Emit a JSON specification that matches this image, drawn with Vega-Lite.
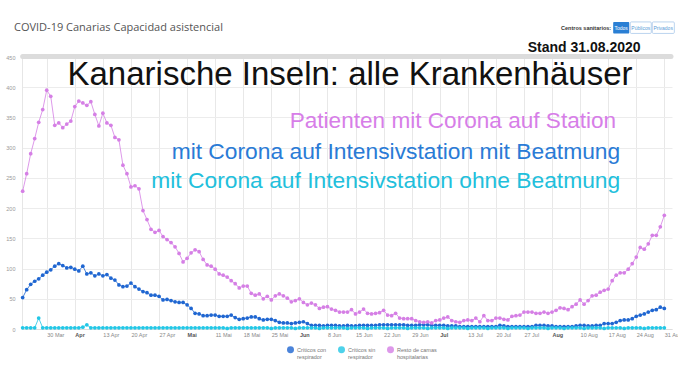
{
  "$schema": "https://vega.github.io/schema/vega-lite/v6.json",
  "width": 650,
  "height": 272,
  "autosize": {"type": "none"},
  "padding": {"left": 22, "top": 57, "right": 6, "bottom": 52},
  "background": "#ffffff",
  "title": {"text": "COVID-19 Canarias Capacidad asistencial", "anchor": "start", "frame": "group", "dx": -8, "offset": -11, "fontSize": 11, "font": "Open Sans", "fontWeight": 400, "color": "#555555"},
  "config": {
    "view": {"stroke": null},
    "font": "Liberation Sans",
    "axisX": {"labelAlign": "left", "labelFontSize": 5.5, "labelPadding": 3, "ticks": false, "grid": true, "gridColor": "#e8e8e8", "domainColor": "#dddddd", "labelOverlap": false, "labelBound": false, "title": null, "tickCount": 40},
    "axisY": {"labelFontSize": 5.5, "labelColor": "#999999", "ticks": false, "domainColor": "#e6e6e6", "gridColor": "#ececec", "labelPadding": 7, "title": null, "tickCount": 20},
    "legend": {"title": null, "orient": "none", "legendX": 265, "legendY": 289, "direction": "horizontal", "symbolType": "circle", "symbolSize": 30, "labelFontSize": 5.5, "labelColor": "#777777", "labelOffset": 3, "columnPadding": 8}
  },
  "datasets": {
    "beds": [
    {"d":"2020-03-24","c":52,"s":2,"r":228},{"d":"2020-03-25","c":65,"s":2,"r":257},{"d":"2020-03-26","c":74,"s":2,"r":290},{"d":"2020-03-27","c":79,"s":2,"r":315},{"d":"2020-03-28","c":83,"s":18,"r":342},{"d":"2020-03-29","c":89,"s":2,"r":363},{"d":"2020-03-30","c":94,"s":2,"r":395},{"d":"2020-03-31","c":98,"s":2,"r":385},
    {"d":"2020-04-01","c":104,"s":2,"r":337},{"d":"2020-04-02","c":108,"s":2,"r":341},{"d":"2020-04-03","c":105,"s":2,"r":333},{"d":"2020-04-04","c":101,"s":2,"r":339},{"d":"2020-04-05","c":102,"s":2,"r":344},{"d":"2020-04-06","c":99,"s":2,"r":368},{"d":"2020-04-07","c":96,"s":2,"r":377},{"d":"2020-04-08","c":104,"s":3,"r":374},{"d":"2020-04-09","c":91,"s":7,"r":370},{"d":"2020-04-10","c":93,"s":2,"r":376},
    {"d":"2020-04-11","c":88,"s":2,"r":355},{"d":"2020-04-12","c":91,"s":2,"r":336},{"d":"2020-04-13","c":88,"s":2,"r":357},{"d":"2020-04-14","c":90,"s":2,"r":341},{"d":"2020-04-15","c":84,"s":2,"r":337},{"d":"2020-04-16","c":81,"s":2,"r":317},{"d":"2020-04-17","c":73,"s":2,"r":313},{"d":"2020-04-18","c":70,"s":2,"r":271},{"d":"2020-04-19","c":71,"s":2,"r":257},{"d":"2020-04-20","c":76,"s":2,"r":235},
    {"d":"2020-04-21","c":70,"s":2,"r":237},{"d":"2020-04-22","c":66,"s":2,"r":232},{"d":"2020-04-23","c":62,"s":2,"r":196},{"d":"2020-04-24","c":60,"s":2,"r":181},{"d":"2020-04-25","c":56,"s":2,"r":165},{"d":"2020-04-26","c":56,"s":2,"r":160},{"d":"2020-04-27","c":54,"s":2,"r":163},{"d":"2020-04-28","c":48,"s":2,"r":153},{"d":"2020-04-29","c":49,"s":2,"r":148},{"d":"2020-04-30","c":47,"s":2,"r":143},
    {"d":"2020-05-01","c":45,"s":2,"r":136},{"d":"2020-05-02","c":44,"s":2,"r":125},{"d":"2020-05-03","c":44,"s":2,"r":111},{"d":"2020-05-04","c":40,"s":2,"r":117},{"d":"2020-05-05","c":34,"s":2,"r":126},{"d":"2020-05-06","c":26,"s":2,"r":131},{"d":"2020-05-07","c":25,"s":2,"r":128},{"d":"2020-05-08","c":22,"s":2,"r":115},{"d":"2020-05-09","c":22,"s":2,"r":106},{"d":"2020-05-10","c":23,"s":2,"r":104},
    {"d":"2020-05-11","c":23,"s":2,"r":99},{"d":"2020-05-12","c":21,"s":2,"r":91},{"d":"2020-05-13","c":21,"s":2,"r":89},{"d":"2020-05-14","c":21,"s":1,"r":86},{"d":"2020-05-15","c":23,"s":2,"r":80},{"d":"2020-05-16","c":19,"s":2,"r":75},{"d":"2020-05-17","c":16,"s":2,"r":68},{"d":"2020-05-18","c":17,"s":2,"r":71},{"d":"2020-05-19","c":18,"s":2,"r":71},{"d":"2020-05-20","c":20,"s":2,"r":59},
    {"d":"2020-05-21","c":20,"s":2,"r":56},{"d":"2020-05-22","c":17,"s":2,"r":58},{"d":"2020-05-23","c":15,"s":2,"r":50},{"d":"2020-05-24","c":16,"s":2,"r":54},{"d":"2020-05-25","c":16,"s":1,"r":48},{"d":"2020-05-26","c":14,"s":2,"r":55},{"d":"2020-05-27","c":11,"s":2,"r":58},{"d":"2020-05-28","c":10,"s":2,"r":55},{"d":"2020-05-29","c":10,"s":2,"r":51},{"d":"2020-05-30","c":9,"s":2,"r":45},{"d":"2020-05-31","c":10,"s":1,"r":47},
    {"d":"2020-06-01","c":11,"s":2,"r":50},{"d":"2020-06-02","c":12,"s":2,"r":44},{"d":"2020-06-03","c":9,"s":2,"r":40},{"d":"2020-06-04","c":6,"s":2,"r":43},{"d":"2020-06-05","c":6,"s":2,"r":40},{"d":"2020-06-06","c":6,"s":1,"r":34},{"d":"2020-06-07","c":5,"s":2,"r":36},{"d":"2020-06-08","c":6,"s":2,"r":37},{"d":"2020-06-09","c":6,"s":2,"r":33},{"d":"2020-06-10","c":6,"s":2,"r":31},
    {"d":"2020-06-11","c":5,"s":2,"r":28},{"d":"2020-06-12","c":5,"s":2,"r":28},{"d":"2020-06-13","c":6,"s":1,"r":28},{"d":"2020-06-14","c":5,"s":2,"r":32},{"d":"2020-06-15","c":5,"s":2,"r":25},{"d":"2020-06-16","c":6,"s":2,"r":28},{"d":"2020-06-17","c":6,"s":2,"r":33},{"d":"2020-06-18","c":6,"s":1,"r":26},{"d":"2020-06-19","c":6,"s":2,"r":25},{"d":"2020-06-20","c":6,"s":2,"r":26},
    {"d":"2020-06-21","c":7,"s":2,"r":27},{"d":"2020-06-22","c":7,"s":2,"r":31},{"d":"2020-06-23","c":7,"s":1,"r":23},{"d":"2020-06-24","c":7,"s":2,"r":22},{"d":"2020-06-25","c":7,"s":2,"r":26},{"d":"2020-06-26","c":7,"s":2,"r":18},{"d":"2020-06-27","c":7,"s":2,"r":17},{"d":"2020-06-28","c":6,"s":1,"r":17},{"d":"2020-06-29","c":6,"s":2,"r":17},{"d":"2020-06-30","c":6,"s":2,"r":14},
    {"d":"2020-07-01","c":7,"s":2,"r":12},{"d":"2020-07-02","c":7,"s":2,"r":11},{"d":"2020-07-03","c":7,"s":1,"r":12},{"d":"2020-07-04","c":6,"s":2,"r":10},{"d":"2020-07-05","c":6,"s":2,"r":14},{"d":"2020-07-06","c":6,"s":2,"r":15},{"d":"2020-07-07","c":6,"s":2,"r":18},{"d":"2020-07-08","c":5,"s":1,"r":20},{"d":"2020-07-09","c":5,"s":2,"r":14},{"d":"2020-07-10","c":5,"s":2,"r":12},
    {"d":"2020-07-11","c":4,"s":2,"r":11},{"d":"2020-07-12","c":4,"s":2,"r":14},{"d":"2020-07-13","c":4,"s":1,"r":15},{"d":"2020-07-14","c":4,"s":2,"r":14},{"d":"2020-07-15","c":4,"s":2,"r":18},{"d":"2020-07-16","c":4,"s":2,"r":12},{"d":"2020-07-17","c":4,"s":2,"r":22},{"d":"2020-07-18","c":4,"s":1,"r":14},{"d":"2020-07-19","c":4,"s":2,"r":14},{"d":"2020-07-20","c":4,"s":2,"r":18},
    {"d":"2020-07-21","c":6,"s":2,"r":18},{"d":"2020-07-22","c":5,"s":2,"r":16},{"d":"2020-07-23","c":4,"s":1,"r":15},{"d":"2020-07-24","c":4,"s":2,"r":21},{"d":"2020-07-25","c":4,"s":2,"r":22},{"d":"2020-07-26","c":4,"s":2,"r":23},{"d":"2020-07-27","c":4,"s":2,"r":28},{"d":"2020-07-28","c":4,"s":1,"r":28},{"d":"2020-07-29","c":4,"s":2,"r":28},{"d":"2020-07-30","c":6,"s":2,"r":26},{"d":"2020-07-31","c":6,"s":2,"r":26},
    {"d":"2020-08-01","c":6,"s":2,"r":28},{"d":"2020-08-02","c":5,"s":1,"r":26},{"d":"2020-08-03","c":5,"s":2,"r":28},{"d":"2020-08-04","c":4,"s":2,"r":31},{"d":"2020-08-05","c":4,"s":2,"r":35},{"d":"2020-08-06","c":4,"s":1,"r":34},{"d":"2020-08-07","c":4,"s":2,"r":32},{"d":"2020-08-08","c":4,"s":2,"r":37},{"d":"2020-08-09","c":5,"s":2,"r":41},{"d":"2020-08-10","c":6,"s":2,"r":48},
    {"d":"2020-08-11","c":6,"s":1,"r":41},{"d":"2020-08-12","c":5,"s":2,"r":47},{"d":"2020-08-13","c":5,"s":2,"r":55},{"d":"2020-08-14","c":6,"s":2,"r":56},{"d":"2020-08-15","c":6,"s":2,"r":61},{"d":"2020-08-16","c":9,"s":1,"r":64},{"d":"2020-08-17","c":9,"s":2,"r":66},{"d":"2020-08-18","c":9,"s":2,"r":80},{"d":"2020-08-19","c":11,"s":2,"r":89},{"d":"2020-08-20","c":14,"s":2,"r":93},
    {"d":"2020-08-21","c":15,"s":1,"r":93},{"d":"2020-08-22","c":15,"s":2,"r":99},{"d":"2020-08-23","c":17,"s":2,"r":108},{"d":"2020-08-24","c":21,"s":2,"r":119},{"d":"2020-08-25","c":23,"s":2,"r":135},{"d":"2020-08-26","c":25,"s":1,"r":132},{"d":"2020-08-27","c":28,"s":2,"r":141},{"d":"2020-08-28","c":31,"s":2,"r":155},{"d":"2020-08-29","c":32,"s":2,"r":155},{"d":"2020-08-30","c":36,"s":2,"r":169},{"d":"2020-08-31","c":34,"s":2,"r":188}
    ],
    "notes": [
      {"id": "stand", "t": "Stand 31.08.2020"},
      {"id": "head", "t": "Kanarische Inseln: alle Krankenhäuser"},
      {"id": "r", "t": "Patienten mit Corona auf Station"},
      {"id": "c", "t": "mit Corona auf Intensivstation mit Beatmung"},
      {"id": "s", "t": "mit Corona auf Intensivstation ohne Beatmung"},
      {"id": "bar", "t": ""},
      {"id": "centros", "t": "Centros sanitarios:"},
      {"id": "todos", "t": "Todos"},
      {"id": "publicos", "t": "Públicos"},
      {"id": "privados", "t": "Privados"}
    ]
  },
  "layer": [
    {
      "data": {"name": "beds"},
      "transform": [{"fold": ["c", "s", "r"], "as": ["k", "v"]}],
      "mark": {"type": "line", "strokeWidth": 1, "opacity": 0.8},
      "encoding": {
        "x": {
          "field": "d", "type": "temporal",
          "scale": {"type": "utc", "domain": [{"year": 2020, "month": 3, "date": 23, "hours": 20, "utc": true}, {"year": 2020, "month": 9, "date": 1, "hours": 22, "utc": true}]},
          "axis": {
            "tickCount": 40,
            "values": [
              {"year":2020,"month":3,"date":30,"utc":true},{"year":2020,"month":4,"date":6,"utc":true},{"year":2020,"month":4,"date":13,"utc":true},{"year":2020,"month":4,"date":20,"utc":true},{"year":2020,"month":4,"date":27,"utc":true},
              {"year":2020,"month":5,"date":4,"utc":true},{"year":2020,"month":5,"date":11,"utc":true},{"year":2020,"month":5,"date":18,"utc":true},{"year":2020,"month":5,"date":25,"utc":true},
              {"year":2020,"month":6,"date":1,"utc":true},{"year":2020,"month":6,"date":8,"utc":true},{"year":2020,"month":6,"date":15,"utc":true},{"year":2020,"month":6,"date":22,"utc":true},{"year":2020,"month":6,"date":29,"utc":true},
              {"year":2020,"month":7,"date":6,"utc":true},{"year":2020,"month":7,"date":13,"utc":true},{"year":2020,"month":7,"date":20,"utc":true},{"year":2020,"month":7,"date":27,"utc":true},
              {"year":2020,"month":8,"date":3,"utc":true},{"year":2020,"month":8,"date":10,"utc":true},{"year":2020,"month":8,"date":17,"utc":true},{"year":2020,"month":8,"date":24,"utc":true},{"year":2020,"month":8,"date":31,"utc":true}
            ],
            "labelExpr": "(utcdate(datum.value) <= 7 ? '' : utcdate(datum.value) + ' ') + ['Jan','Feb','Mar','Apr','Mai','Jun','Jul','Aug','Sep'][utcmonth(datum.value)]",
            "labelColor": {"condition": {"test": "utcdate(datum.value) <= 7", "value": "#555555"}, "value": "#888888"},
            "labelFontWeight": {"condition": {"test": "utcdate(datum.value) <= 7", "value": "bold"}, "value": "normal"}
          }
        },
        "y": {
          "field": "v", "type": "quantitative",
          "scale": {"domain": [0, 450], "nice": false},
          "axis": {"tickCount": 20, "values": [0, 50, 100, 150, 200, 250, 300, 350, 400, 450]}
        },
        "color": {"field": "k", "type": "nominal", "scale": {"domain": ["c", "s", "r"], "range": ["#1f66d1", "#22c7e6", "#d57fe5"]},
          "legend": {"labelExpr": "datum.label == 'c' ? ['Críticos con', 'respirador'] : datum.label == 's' ? ['Críticos sin', 'respirador'] : ['Resto de camas', 'hospitalarias']"}}
      }
    },
    {
      "data": {"name": "beds"},
      "transform": [{"fold": ["c", "s", "r"], "as": ["k", "v"]}],
      "mark": {"type": "point", "filled": true, "size": 14, "opacity": 1},
      "encoding": {
        "x": {"field": "d", "type": "temporal"},
        "y": {"field": "v", "type": "quantitative"},
        "color": {"field": "k", "type": "nominal", "scale": {"domain": ["c", "s", "r"], "range": ["#1f66d1", "#22c7e6", "#d57fe5"]},
          "legend": {"labelExpr": "datum.label == 'c' ? ['Críticos con', 'respirador'] : datum.label == 's' ? ['Críticos sin', 'respirador'] : ['Resto de camas', 'hospitalarias']"}}
      }
    },
    {
      "data": {"name": "notes"},
      "transform": [{"filter": "datum.id == 'bar'"}],
      "mark": {"type": "rule", "color": "#dcdcdc", "strokeWidth": 5, "strokeCap": "round"},
      "encoding": {
        "x": {"datum": {"year": 2020, "month": 3, "date": 24, "utc": true}, "type": "temporal"},
        "x2": {"datum": {"year": 2020, "month": 9, "date": 1, "hours": 16, "utc": true}},
        "y": {"datum": 451, "type": "quantitative"}
      }
    },
    {
      "data": {"name": "notes"},
      "transform": [{"filter": "datum.id == 'todos'"}],
      "mark": {"type": "rect", "fill": "#2a7fd4", "cornerRadius": 1},
      "encoding": {
        "x": {"datum": {"year": 2020, "month": 8, "date": 18, "hours": 6, "utc": true}, "type": "temporal"},
        "x2": {"datum": {"year": 2020, "month": 8, "date": 22, "hours": 6, "utc": true}},
        "y": {"datum": 489, "type": "quantitative"},
        "y2": {"datum": 508}
      }
    },
    {
      "data": {"name": "notes"},
      "transform": [{"filter": "datum.id == 'publicos'"}],
      "mark": {"type": "rect", "fill": "#ffffff", "stroke": "#a8c8ea", "strokeWidth": 0.8, "cornerRadius": 1},
      "encoding": {
        "x": {"datum": {"year": 2020, "month": 8, "date": 22, "hours": 12, "utc": true}, "type": "temporal"},
        "x2": {"datum": {"year": 2020, "month": 8, "date": 27, "hours": 18, "utc": true}},
        "y": {"datum": 489, "type": "quantitative"},
        "y2": {"datum": 508}
      }
    },
    {
      "data": {"name": "notes"},
      "transform": [{"filter": "datum.id == 'privados'"}],
      "mark": {"type": "rect", "fill": "#ffffff", "stroke": "#a8c8ea", "strokeWidth": 0.8, "cornerRadius": 1},
      "encoding": {
        "x": {"datum": {"year": 2020, "month": 8, "date": 28, "utc": true}, "type": "temporal"},
        "x2": {"datum": {"year": 2020, "month": 9, "date": 2, "hours": 12, "utc": true}},
        "y": {"datum": 489, "type": "quantitative"},
        "y2": {"datum": 508}
      }
    },
    {
      "data": {"name": "notes"},
      "transform": [{"filter": "datum.id == 'centros'"}],
      "mark": {"type": "text", "font": "Liberation Sans", "fontSize": 5.5, "fontWeight": "bold", "color": "#333333", "align": "right", "baseline": "middle"},
      "encoding": {
        "x": {"datum": {"year": 2020, "month": 8, "date": 17, "hours": 18, "utc": true}, "type": "temporal"},
        "y": {"datum": 498.5, "type": "quantitative"},
        "text": {"field": "t", "type": "nominal"}
      }
    },
    {
      "data": {"name": "notes"},
      "transform": [{"filter": "datum.id == 'todos'"}],
      "mark": {"type": "text", "font": "Liberation Sans", "fontSize": 5, "color": "#ffffff", "align": "center", "baseline": "middle"},
      "encoding": {
        "x": {"datum": {"year": 2020, "month": 8, "date": 20, "hours": 6, "utc": true}, "type": "temporal"},
        "y": {"datum": 498.5, "type": "quantitative"},
        "text": {"field": "t", "type": "nominal"}
      }
    },
    {
      "data": {"name": "notes"},
      "transform": [{"filter": "datum.id == 'publicos'"}],
      "mark": {"type": "text", "font": "Liberation Sans", "fontSize": 5, "color": "#5b9bd8", "align": "center", "baseline": "middle"},
      "encoding": {
        "x": {"datum": {"year": 2020, "month": 8, "date": 25, "hours": 3, "utc": true}, "type": "temporal"},
        "y": {"datum": 498.5, "type": "quantitative"},
        "text": {"field": "t", "type": "nominal"}
      }
    },
    {
      "data": {"name": "notes"},
      "transform": [{"filter": "datum.id == 'privados'"}],
      "mark": {"type": "text", "font": "Liberation Sans", "fontSize": 5, "color": "#5b9bd8", "align": "center", "baseline": "middle"},
      "encoding": {
        "x": {"datum": {"year": 2020, "month": 8, "date": 30, "hours": 17, "utc": true}, "type": "temporal"},
        "y": {"datum": 498.5, "type": "quantitative"},
        "text": {"field": "t", "type": "nominal"}
      }
    },
    {
      "data": {"name": "notes"},
      "transform": [{"filter": "datum.id == 'stand'"}],
      "mark": {"type": "text", "font": "Liberation Sans", "fontSize": 14, "fontWeight": "bold", "color": "#111111", "align": "center", "baseline": "alphabetic"},
      "encoding": {
        "x": {"datum": {"year": 2020, "month": 8, "date": 11, "utc": true}, "type": "temporal"},
        "y": {"datum": 458, "type": "quantitative"},
        "text": {"field": "t", "type": "nominal"}
      }
    },
    {
      "data": {"name": "notes"},
      "transform": [{"filter": "datum.id == 'head'"}],
      "mark": {"type": "text", "font": "Liberation Sans", "fontSize": 33, "color": "#111111", "align": "center", "baseline": "alphabetic"},
      "encoding": {
        "x": {"datum": {"year": 2020, "month": 6, "date": 13, "hours": 15, "utc": true}, "type": "temporal"},
        "y": {"datum": 404, "type": "quantitative"},
        "text": {"field": "t", "type": "nominal"}
      }
    },
    {
      "data": {"name": "notes"},
      "transform": [{"filter": "datum.id == 'r'"}],
      "mark": {"type": "text", "font": "Liberation Sans", "fontSize": 22.6, "color": "#d77ee8", "align": "right", "baseline": "alphabetic"},
      "encoding": {
        "x": {"datum": {"year": 2020, "month": 8, "date": 19, "utc": true}, "type": "temporal"},
        "y": {"datum": 332, "type": "quantitative"},
        "text": {"field": "t", "type": "nominal"}
      }
    },
    {
      "data": {"name": "notes"},
      "transform": [{"filter": "datum.id == 'c'"}],
      "mark": {"type": "text", "font": "Liberation Sans", "fontSize": 22.8, "color": "#2a7bd6", "align": "right", "baseline": "alphabetic"},
      "encoding": {
        "x": {"datum": {"year": 2020, "month": 8, "date": 20, "utc": true}, "type": "temporal"},
        "y": {"datum": 281, "type": "quantitative"},
        "text": {"field": "t", "type": "nominal"}
      }
    },
    {
      "data": {"name": "notes"},
      "transform": [{"filter": "datum.id == 's'"}],
      "mark": {"type": "text", "font": "Liberation Sans", "fontSize": 22.8, "color": "#22bfdc", "align": "right", "baseline": "alphabetic"},
      "encoding": {
        "x": {"datum": {"year": 2020, "month": 8, "date": 20, "utc": true}, "type": "temporal"},
        "y": {"datum": 233, "type": "quantitative"},
        "text": {"field": "t", "type": "nominal"}
      }
    }
  ]
}
